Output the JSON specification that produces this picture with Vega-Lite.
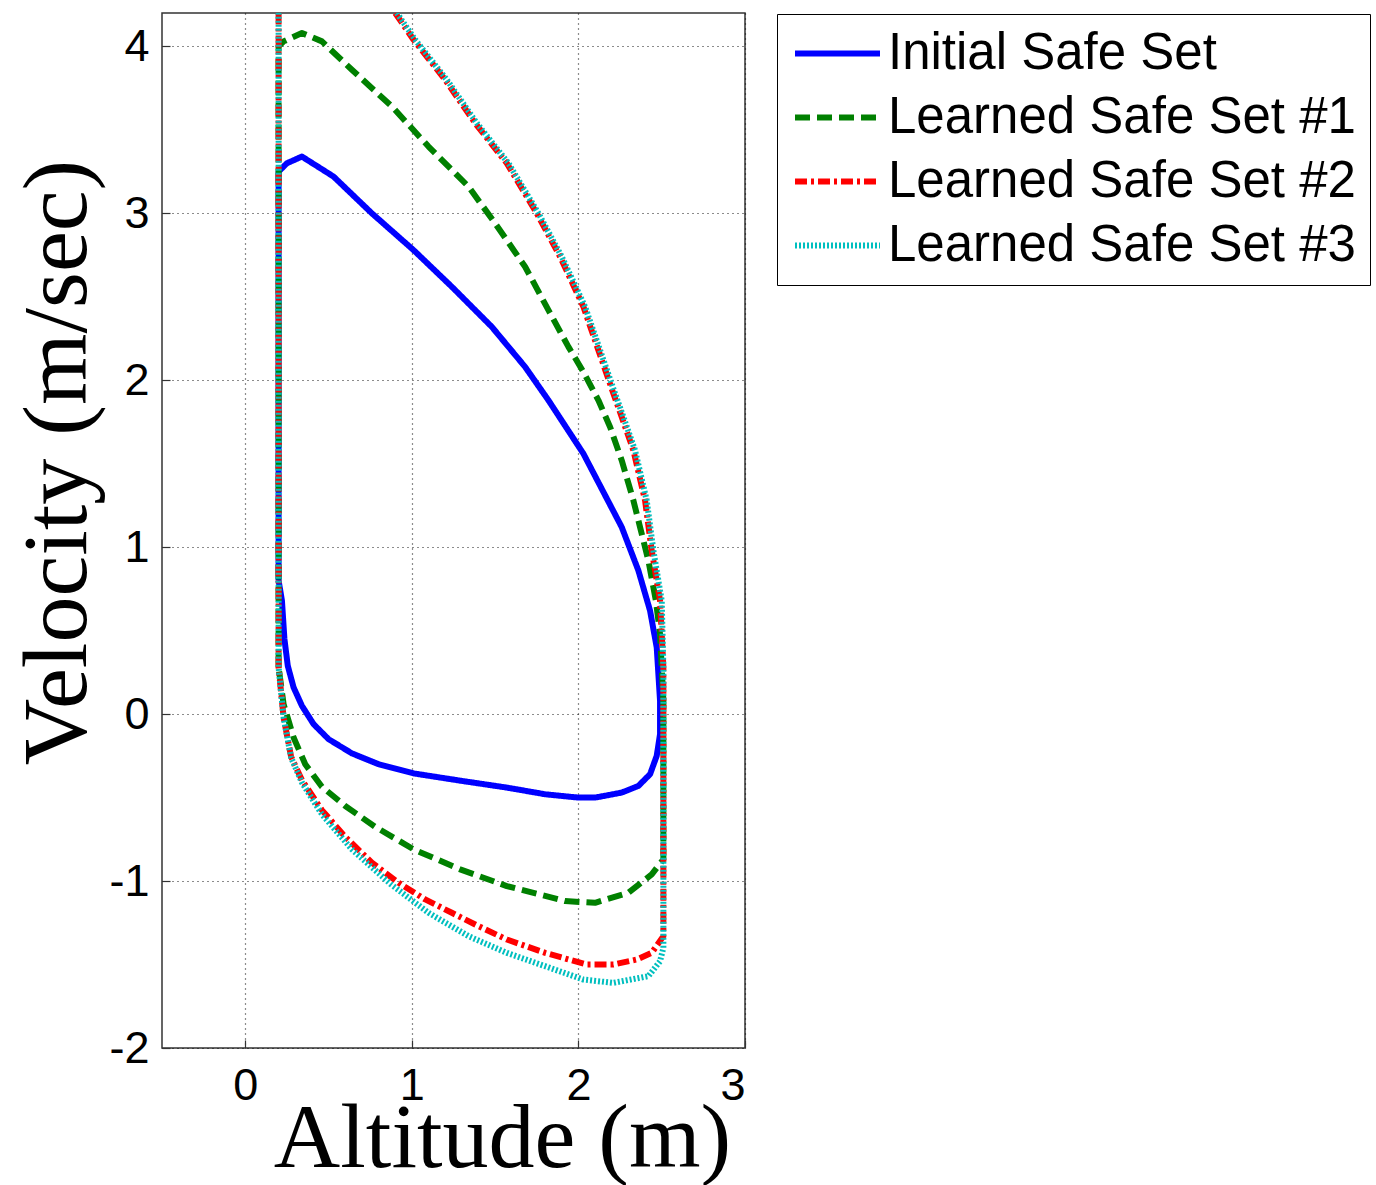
{
  "$schema": "https://vega.github.io/schema/vega-lite/v6.json",
  "autosize": "none",
  "width": 583,
  "height": 1035,
  "padding": {"left": 162, "top": 13, "right": 631, "bottom": 137},
  "background": "white",
  "config": {
    "view": {"stroke": "#333333", "strokeWidth": 1.5},
    "axis": {
      "labelFont": "Liberation Sans",
      "labelFontSize": 45,
      "labelColor": "black",
      "labelExpr": "'' + datum.value",
      "titleFont": "Liberation Serif",
      "titleFontSize": 92,
      "titleFontWeight": "normal",
      "titleColor": "black",
      "grid": true,
      "gridColor": "black",
      "gridDash": [1, 4],
      "gridWidth": 1.2,
      "gridOpacity": 0.9,
      "domain": false,
      "tickColor": "#333333",
      "tickSize": -8,
      "tickWidth": 1.2
    }
  },
  "data": {
    "values": [
      {"s": "Initial Safe Set", "i": 1, "x": 0.2, "y": 0.8},
      {"s": "Initial Safe Set", "i": 2, "x": 0.2, "y": 3.25},
      {"s": "Initial Safe Set", "i": 3, "x": 0.25, "y": 3.3},
      {"s": "Initial Safe Set", "i": 4, "x": 0.34, "y": 3.34},
      {"s": "Initial Safe Set", "i": 5, "x": 0.53, "y": 3.22},
      {"s": "Initial Safe Set", "i": 6, "x": 0.76, "y": 3.0},
      {"s": "Initial Safe Set", "i": 7, "x": 1.01, "y": 2.78},
      {"s": "Initial Safe Set", "i": 8, "x": 1.24, "y": 2.56},
      {"s": "Initial Safe Set", "i": 9, "x": 1.48, "y": 2.32},
      {"s": "Initial Safe Set", "i": 10, "x": 1.68, "y": 2.08},
      {"s": "Initial Safe Set", "i": 11, "x": 1.82, "y": 1.88},
      {"s": "Initial Safe Set", "i": 12, "x": 2.03, "y": 1.56},
      {"s": "Initial Safe Set", "i": 13, "x": 2.26, "y": 1.12},
      {"s": "Initial Safe Set", "i": 14, "x": 2.36, "y": 0.86},
      {"s": "Initial Safe Set", "i": 15, "x": 2.43, "y": 0.62},
      {"s": "Initial Safe Set", "i": 16, "x": 2.47, "y": 0.4},
      {"s": "Initial Safe Set", "i": 17, "x": 2.49, "y": 0.08},
      {"s": "Initial Safe Set", "i": 18, "x": 2.49, "y": -0.12},
      {"s": "Initial Safe Set", "i": 19, "x": 2.47, "y": -0.25},
      {"s": "Initial Safe Set", "i": 20, "x": 2.43, "y": -0.36},
      {"s": "Initial Safe Set", "i": 21, "x": 2.36, "y": -0.43},
      {"s": "Initial Safe Set", "i": 22, "x": 2.26, "y": -0.47},
      {"s": "Initial Safe Set", "i": 23, "x": 2.1, "y": -0.5},
      {"s": "Initial Safe Set", "i": 24, "x": 2.0, "y": -0.5},
      {"s": "Initial Safe Set", "i": 25, "x": 1.8, "y": -0.48},
      {"s": "Initial Safe Set", "i": 26, "x": 1.57, "y": -0.44},
      {"s": "Initial Safe Set", "i": 27, "x": 1.3, "y": -0.4},
      {"s": "Initial Safe Set", "i": 28, "x": 1.01, "y": -0.355},
      {"s": "Initial Safe Set", "i": 29, "x": 0.8, "y": -0.3},
      {"s": "Initial Safe Set", "i": 30, "x": 0.64, "y": -0.235},
      {"s": "Initial Safe Set", "i": 31, "x": 0.5, "y": -0.15},
      {"s": "Initial Safe Set", "i": 32, "x": 0.41, "y": -0.06},
      {"s": "Initial Safe Set", "i": 33, "x": 0.34, "y": 0.05},
      {"s": "Initial Safe Set", "i": 34, "x": 0.29, "y": 0.16},
      {"s": "Initial Safe Set", "i": 35, "x": 0.255, "y": 0.29},
      {"s": "Initial Safe Set", "i": 36, "x": 0.235, "y": 0.45},
      {"s": "Initial Safe Set", "i": 37, "x": 0.22, "y": 0.68},
      {"s": "Initial Safe Set", "i": 38, "x": 0.2, "y": 0.8},

      {"s": "Learned Safe Set #1", "i": 1, "x": 0.2, "y": 0.28},
      {"s": "Learned Safe Set #1", "i": 2, "x": 0.2, "y": 4.0},
      {"s": "Learned Safe Set #1", "i": 3, "x": 0.23, "y": 4.03},
      {"s": "Learned Safe Set #1", "i": 4, "x": 0.34, "y": 4.08},
      {"s": "Learned Safe Set #1", "i": 5, "x": 0.46, "y": 4.03},
      {"s": "Learned Safe Set #1", "i": 6, "x": 0.64, "y": 3.86},
      {"s": "Learned Safe Set #1", "i": 7, "x": 0.88, "y": 3.64},
      {"s": "Learned Safe Set #1", "i": 8, "x": 1.1, "y": 3.4},
      {"s": "Learned Safe Set #1", "i": 9, "x": 1.34, "y": 3.16},
      {"s": "Learned Safe Set #1", "i": 10, "x": 1.5, "y": 2.94},
      {"s": "Learned Safe Set #1", "i": 11, "x": 1.68, "y": 2.68},
      {"s": "Learned Safe Set #1", "i": 12, "x": 1.82, "y": 2.42},
      {"s": "Learned Safe Set #1", "i": 13, "x": 1.94, "y": 2.2},
      {"s": "Learned Safe Set #1", "i": 14, "x": 2.03, "y": 2.05},
      {"s": "Learned Safe Set #1", "i": 15, "x": 2.12, "y": 1.88},
      {"s": "Learned Safe Set #1", "i": 16, "x": 2.19, "y": 1.72},
      {"s": "Learned Safe Set #1", "i": 17, "x": 2.26, "y": 1.52},
      {"s": "Learned Safe Set #1", "i": 18, "x": 2.33, "y": 1.28},
      {"s": "Learned Safe Set #1", "i": 19, "x": 2.37, "y": 1.12},
      {"s": "Learned Safe Set #1", "i": 20, "x": 2.42, "y": 0.92},
      {"s": "Learned Safe Set #1", "i": 21, "x": 2.465, "y": 0.68},
      {"s": "Learned Safe Set #1", "i": 22, "x": 2.49, "y": 0.48},
      {"s": "Learned Safe Set #1", "i": 23, "x": 2.51, "y": 0.08},
      {"s": "Learned Safe Set #1", "i": 24, "x": 2.51, "y": -0.87},
      {"s": "Learned Safe Set #1", "i": 25, "x": 2.44, "y": -0.96},
      {"s": "Learned Safe Set #1", "i": 26, "x": 2.3, "y": -1.07},
      {"s": "Learned Safe Set #1", "i": 27, "x": 2.1, "y": -1.13},
      {"s": "Learned Safe Set #1", "i": 28, "x": 1.92, "y": -1.12},
      {"s": "Learned Safe Set #1", "i": 29, "x": 1.57, "y": -1.03},
      {"s": "Learned Safe Set #1", "i": 30, "x": 1.29, "y": -0.93},
      {"s": "Learned Safe Set #1", "i": 31, "x": 1.01, "y": -0.81},
      {"s": "Learned Safe Set #1", "i": 32, "x": 0.78, "y": -0.675},
      {"s": "Learned Safe Set #1", "i": 33, "x": 0.6, "y": -0.55},
      {"s": "Learned Safe Set #1", "i": 34, "x": 0.46, "y": -0.435},
      {"s": "Learned Safe Set #1", "i": 35, "x": 0.36, "y": -0.3},
      {"s": "Learned Safe Set #1", "i": 36, "x": 0.29, "y": -0.14},
      {"s": "Learned Safe Set #1", "i": 37, "x": 0.23, "y": 0.06},
      {"s": "Learned Safe Set #1", "i": 38, "x": 0.2, "y": 0.28},

      {"s": "Learned Safe Set #2", "i": 1, "x": 0.9, "y": 4.2},
      {"s": "Learned Safe Set #2", "i": 2, "x": 1.01, "y": 4.04},
      {"s": "Learned Safe Set #2", "i": 3, "x": 1.2, "y": 3.8},
      {"s": "Learned Safe Set #2", "i": 4, "x": 1.38, "y": 3.54},
      {"s": "Learned Safe Set #2", "i": 5, "x": 1.57, "y": 3.3},
      {"s": "Learned Safe Set #2", "i": 6, "x": 1.75, "y": 3.0},
      {"s": "Learned Safe Set #2", "i": 7, "x": 1.89, "y": 2.74},
      {"s": "Learned Safe Set #2", "i": 8, "x": 2.03, "y": 2.44},
      {"s": "Learned Safe Set #2", "i": 9, "x": 2.12, "y": 2.18},
      {"s": "Learned Safe Set #2", "i": 10, "x": 2.21, "y": 1.92},
      {"s": "Learned Safe Set #2", "i": 11, "x": 2.26, "y": 1.78},
      {"s": "Learned Safe Set #2", "i": 12, "x": 2.33, "y": 1.58},
      {"s": "Learned Safe Set #2", "i": 13, "x": 2.4, "y": 1.28},
      {"s": "Learned Safe Set #2", "i": 14, "x": 2.44, "y": 0.98},
      {"s": "Learned Safe Set #2", "i": 15, "x": 2.49, "y": 0.68},
      {"s": "Learned Safe Set #2", "i": 16, "x": 2.51, "y": 0.28},
      {"s": "Learned Safe Set #2", "i": 17, "x": 2.51, "y": -1.33},
      {"s": "Learned Safe Set #2", "i": 18, "x": 2.44, "y": -1.43},
      {"s": "Learned Safe Set #2", "i": 19, "x": 2.35, "y": -1.47},
      {"s": "Learned Safe Set #2", "i": 20, "x": 2.21, "y": -1.5},
      {"s": "Learned Safe Set #2", "i": 21, "x": 2.05, "y": -1.5},
      {"s": "Learned Safe Set #2", "i": 22, "x": 1.8, "y": -1.43},
      {"s": "Learned Safe Set #2", "i": 23, "x": 1.57, "y": -1.35},
      {"s": "Learned Safe Set #2", "i": 24, "x": 1.4, "y": -1.27},
      {"s": "Learned Safe Set #2", "i": 25, "x": 1.24, "y": -1.19},
      {"s": "Learned Safe Set #2", "i": 26, "x": 1.08, "y": -1.11},
      {"s": "Learned Safe Set #2", "i": 27, "x": 0.92, "y": -1.01},
      {"s": "Learned Safe Set #2", "i": 28, "x": 0.76, "y": -0.89},
      {"s": "Learned Safe Set #2", "i": 29, "x": 0.6, "y": -0.735},
      {"s": "Learned Safe Set #2", "i": 30, "x": 0.46, "y": -0.575},
      {"s": "Learned Safe Set #2", "i": 31, "x": 0.34, "y": -0.395},
      {"s": "Learned Safe Set #2", "i": 32, "x": 0.275, "y": -0.255},
      {"s": "Learned Safe Set #2", "i": 33, "x": 0.23, "y": -0.02},
      {"s": "Learned Safe Set #2", "i": 34, "x": 0.2, "y": 0.28},
      {"s": "Learned Safe Set #2", "i": 35, "x": 0.2, "y": 4.2},

      {"s": "Learned Safe Set #3", "i": 1, "x": 0.91, "y": 4.2},
      {"s": "Learned Safe Set #3", "i": 2, "x": 1.02, "y": 4.04},
      {"s": "Learned Safe Set #3", "i": 3, "x": 1.21, "y": 3.8},
      {"s": "Learned Safe Set #3", "i": 4, "x": 1.39, "y": 3.54},
      {"s": "Learned Safe Set #3", "i": 5, "x": 1.58, "y": 3.3},
      {"s": "Learned Safe Set #3", "i": 6, "x": 1.76, "y": 3.0},
      {"s": "Learned Safe Set #3", "i": 7, "x": 1.9, "y": 2.74},
      {"s": "Learned Safe Set #3", "i": 8, "x": 2.04, "y": 2.44},
      {"s": "Learned Safe Set #3", "i": 9, "x": 2.13, "y": 2.18},
      {"s": "Learned Safe Set #3", "i": 10, "x": 2.22, "y": 1.92},
      {"s": "Learned Safe Set #3", "i": 11, "x": 2.27, "y": 1.78},
      {"s": "Learned Safe Set #3", "i": 12, "x": 2.34, "y": 1.58},
      {"s": "Learned Safe Set #3", "i": 13, "x": 2.41, "y": 1.28},
      {"s": "Learned Safe Set #3", "i": 14, "x": 2.45, "y": 0.98},
      {"s": "Learned Safe Set #3", "i": 15, "x": 2.5, "y": 0.68},
      {"s": "Learned Safe Set #3", "i": 16, "x": 2.51, "y": 0.28},
      {"s": "Learned Safe Set #3", "i": 17, "x": 2.51, "y": -1.4},
      {"s": "Learned Safe Set #3", "i": 18, "x": 2.49, "y": -1.48},
      {"s": "Learned Safe Set #3", "i": 19, "x": 2.42, "y": -1.57},
      {"s": "Learned Safe Set #3", "i": 20, "x": 2.21, "y": -1.61},
      {"s": "Learned Safe Set #3", "i": 21, "x": 2.03, "y": -1.59},
      {"s": "Learned Safe Set #3", "i": 22, "x": 1.8, "y": -1.51},
      {"s": "Learned Safe Set #3", "i": 23, "x": 1.57, "y": -1.43},
      {"s": "Learned Safe Set #3", "i": 24, "x": 1.34, "y": -1.33},
      {"s": "Learned Safe Set #3", "i": 25, "x": 1.1, "y": -1.19},
      {"s": "Learned Safe Set #3", "i": 26, "x": 0.875, "y": -1.02},
      {"s": "Learned Safe Set #3", "i": 27, "x": 0.64, "y": -0.81},
      {"s": "Learned Safe Set #3", "i": 28, "x": 0.46, "y": -0.6},
      {"s": "Learned Safe Set #3", "i": 29, "x": 0.34, "y": -0.41},
      {"s": "Learned Safe Set #3", "i": 30, "x": 0.275, "y": -0.26},
      {"s": "Learned Safe Set #3", "i": 31, "x": 0.23, "y": -0.02},
      {"s": "Learned Safe Set #3", "i": 32, "x": 0.2, "y": 0.28},
      {"s": "Learned Safe Set #3", "i": 33, "x": 0.2, "y": 4.2}
    ]
  },
  "mark": {"type": "line", "clip": true, "strokeJoin": "round"},
  "encoding": {
    "x": {
      "field": "x", "type": "quantitative",
      "scale": {"domain": [-0.5, 3], "nice": false, "zero": false},
      "axis": {
        "values": [0, 1, 2, 3], "title": "Altitude (m)",
        "labelPadding": 23,
        "titleX": 340, "titleY": 118, "titleAlign": "center", "titleBaseline": "alphabetic"
      }
    },
    "y": {
      "field": "y", "type": "quantitative",
      "scale": {"domain": [-2, 4.2], "nice": false, "zero": false},
      "axis": {
        "values": [-2, -1, 0, 1, 2, 3, 4], "title": "Velocity (m/sec)",
        "labelPadding": 21,
        "titleX": -77, "titleY": 449, "titleAngle": -90, "titleAlign": "center", "titleBaseline": "alphabetic"
      }
    },
    "order": {"field": "i", "type": "quantitative"},
    "color": {
      "field": "s", "type": "nominal",
      "scale": {
        "domain": ["Initial Safe Set", "Learned Safe Set #1", "Learned Safe Set #2", "Learned Safe Set #3"],
        "range": ["#0000FF", "#008000", "#FF0000", "#00BFBF"]
      },
      "legend": {
        "title": null, "orient": "none", "legendX": 615, "legendY": 1,
        "strokeColor": "black", "fillColor": "white", "padding": 14,
        "labelFont": "Liberation Sans", "labelFontSize": 51, "labelColor": "black",
        "symbolType": "M-2,0H2", "symbolSize": 1806, "symbolStrokeWidth": 6, "symbolOffset": 21,
        "labelOffset": 25, "rowPadding": 12, "labelLimit": 600
      }
    },
    "strokeDash": {
      "field": "s", "type": "nominal",
      "scale": {
        "domain": ["Initial Safe Set", "Learned Safe Set #1", "Learned Safe Set #2", "Learned Safe Set #3"],
        "range": [[1, 0], [15, 7], [12, 4, 3, 4], [2, 2]]
      },
      "legend": {
        "title": null, "orient": "none", "legendX": 615, "legendY": 1,
        "strokeColor": "black", "fillColor": "white", "padding": 14,
        "labelFont": "Liberation Sans", "labelFontSize": 51, "labelColor": "black",
        "symbolType": "M-2,0H2", "symbolSize": 1806, "symbolStrokeWidth": 6, "symbolOffset": 21,
        "labelOffset": 25, "rowPadding": 12, "labelLimit": 600
      }
    },
    "strokeWidth": {
      "field": "s", "type": "nominal",
      "scale": {
        "domain": ["Initial Safe Set", "Learned Safe Set #1", "Learned Safe Set #2", "Learned Safe Set #3"],
        "range": [6, 6, 5, 3.5]
      },
      "legend": null
    }
  }
}
